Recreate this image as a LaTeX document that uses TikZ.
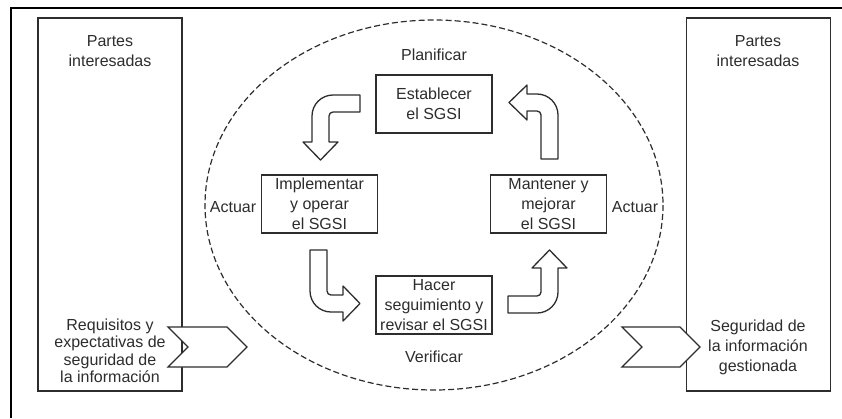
\documentclass[tikz,border=0pt]{standalone}
\usepackage{fontspec}
\setmainfont{Liberation Sans}
\definecolor{ink}{RGB}{45,45,45}
\tikzset{stage/.style={draw=ink,line width=1.5pt,fill=white,minimum width=116pt,minimum height=58pt,inner sep=0pt,align=center,text=ink},
	party/.style={draw=ink,line width=1.5pt,minimum width=144pt,minimum height=373pt,inner sep=0pt},
	lbl/.style={text=ink,inner sep=0pt,align=center},
	turnarrow/.style={draw=ink,line width=1.3pt,fill=white,line join=round},
	chevron/.style={draw=ink,line width=1.3pt,fill=white,line join=miter},}

\begin{document}
\begin{tikzpicture}[x=1pt,y=-1pt,font=\fontsize{16}{20}\selectfont]
			\useasboundingbox[fill=white] (0,0) rectangle (842,418);
			\draw[line width=2.5pt] (11,418) -- (11,8) -- (842,8);

			% partes interesadas
			\node[party] (pl) at (110,204.5) {};
			\node[party] (pr) at (758.5,204.5) {};
			\node[lbl] (plt) at (110,51) {Partes\\interesadas};
			\node[lbl] (prt) at (758,51) {Partes\\interesadas};
			\node[lbl,font=\fontsize{16}{17.5}\selectfont] (req) at (110,351) {Requisitos y\\expectativas de\\seguridad de\\la información};
			\node[lbl] (seg) at (758,347) {Seguridad de\\la información\\gestionada};

			% entrada y salida
			\draw[chevron] (168,327) -- (227,327) -- (247,347) -- (227,367) -- (168,367) -- (188,347) -- cycle;
			\draw[chevron] (622,327) -- (680,327) -- (700,347) -- (680,367) -- (622,367) -- (642,347) -- cycle;

			% ciclo
			\draw[ink,line width=1.2pt,dash pattern=on 6pt off 3pt] (434,205) ellipse [x radius=229,y radius=185];

			\node[stage] (est) at (434,104) {Establecer\\el SGSI};
			\node[stage] (imp) at (319.5,204) {Implementar\\y operar\\el SGSI};
			\node[stage] (man) at (548.5,204) {Mantener y\\mejorar\\el SGSI};
			\node[stage] (hac) at (434,305) {Hacer\\seguimiento y\\revisar el SGSI};

			\node[lbl] (plan) at (434,55) {Planificar};
			\node[lbl] (verif) at (434,357) {Verificar};
			\node[lbl] (actl) at (233,207) {Actuar};
			\node[lbl] (actr) at (635,207) {Actuar};

			\draw[turnarrow] (360,95) -- (333,95) .. controls (321.4,95) and (312,104.4) .. (312,116) -- (312,142) -- (303,142) -- (320.5,160) -- (338,142) -- (329,142) -- (329,116) .. controls (329,113.8) and (330.8,112) .. (333,112) -- (360,112) -- cycle;
			\draw[turnarrow] (541,159) -- (558,159) -- (558,115) .. controls (558,103.4) and (548.6,94) .. (537,94) -- (527,94) -- (527,85) -- (509,102.5) -- (527,120) -- (527,111) -- (537,111) .. controls (539.2,111) and (541,112.8) .. (541,115) -- cycle;
			\draw[turnarrow] (310,250) -- (327,250) -- (327,291) .. controls (327,293.2) and (328.8,295) .. (331,295) -- (343,295) -- (343,286) -- (360,303.5) -- (343,321) -- (343,312) -- (331,312) .. controls (319.4,312) and (310,302.6) .. (310,291) -- cycle;
			\draw[turnarrow] (508,296) -- (537,296) .. controls (539.2,296) and (541,294.2) .. (541,292) -- (541,268) -- (532,268) -- (549.5,250) -- (567,268) -- (558,268) -- (558,292) .. controls (558,303.6) and (548.6,313) .. (537,313) -- (508,313) -- cycle;
		\end{tikzpicture}
\end{document}
